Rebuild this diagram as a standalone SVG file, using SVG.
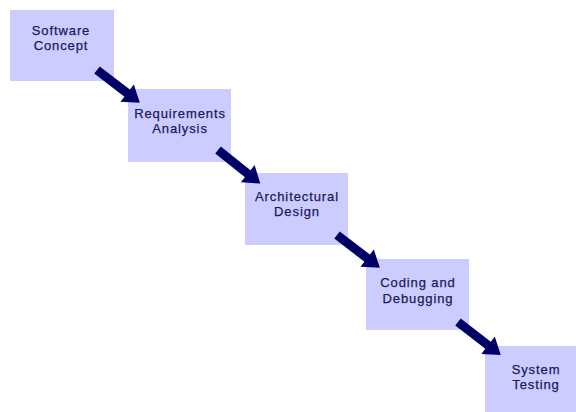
<svg xmlns="http://www.w3.org/2000/svg" xmlns:xlink="http://www.w3.org/1999/xlink" width="576" height="412" viewBox="0 0 576 412">
<style>
.box{fill:#ccccff;}
.lbl{font-family:"Liberation Sans",Arial,sans-serif;font-size:13px;fill:#1a1a5e;stroke:#1a1a5e;stroke-width:0.25;text-anchor:middle;letter-spacing:0.9px;}
.arr{fill:#000066;}
</style>
<defs>
<path id="arrow" class="arr" d="M0,-4.5 H38 V-11 L54,0 L38,11 V4.5 H0 Z"/>
</defs>
<rect width="576" height="412" fill="#ffffff"/>
<g id="n1"><rect class="box" x="10" y="10" width="104" height="71"/><text class="lbl" x="61" y="35">Software</text><text class="lbl" x="61" y="50">Concept</text></g>
<g id="n2"><rect class="box" x="128" y="89" width="103" height="73"/><text class="lbl" x="180" y="118">Requirements</text><text class="lbl" x="180" y="133">Analysis</text></g>
<g id="n3"><rect class="box" x="245" y="173" width="103" height="72"/><text class="lbl" x="297" y="201">Architectural</text><text class="lbl" x="297" y="216">Design</text></g>
<g id="n4"><rect class="box" x="366" y="259" width="103" height="71"/><text class="lbl" x="418" y="287">Coding and</text><text class="lbl" x="418" y="303">Debugging</text></g>
<g id="n5"><rect class="box" x="485" y="346" width="104" height="72"/><text class="lbl" x="536" y="374">System</text><text class="lbl" x="536" y="389">Testing</text></g>
<g id="connectors">
<use xlink:href="#arrow" transform="translate(97,70) rotate(37.5)"/>
<use xlink:href="#arrow" transform="translate(218,150) rotate(38.5)"/>
<use xlink:href="#arrow" transform="translate(337,235) rotate(37.5)"/>
<use xlink:href="#arrow" transform="translate(458,322) rotate(37.7)"/>
</g>
</svg>
